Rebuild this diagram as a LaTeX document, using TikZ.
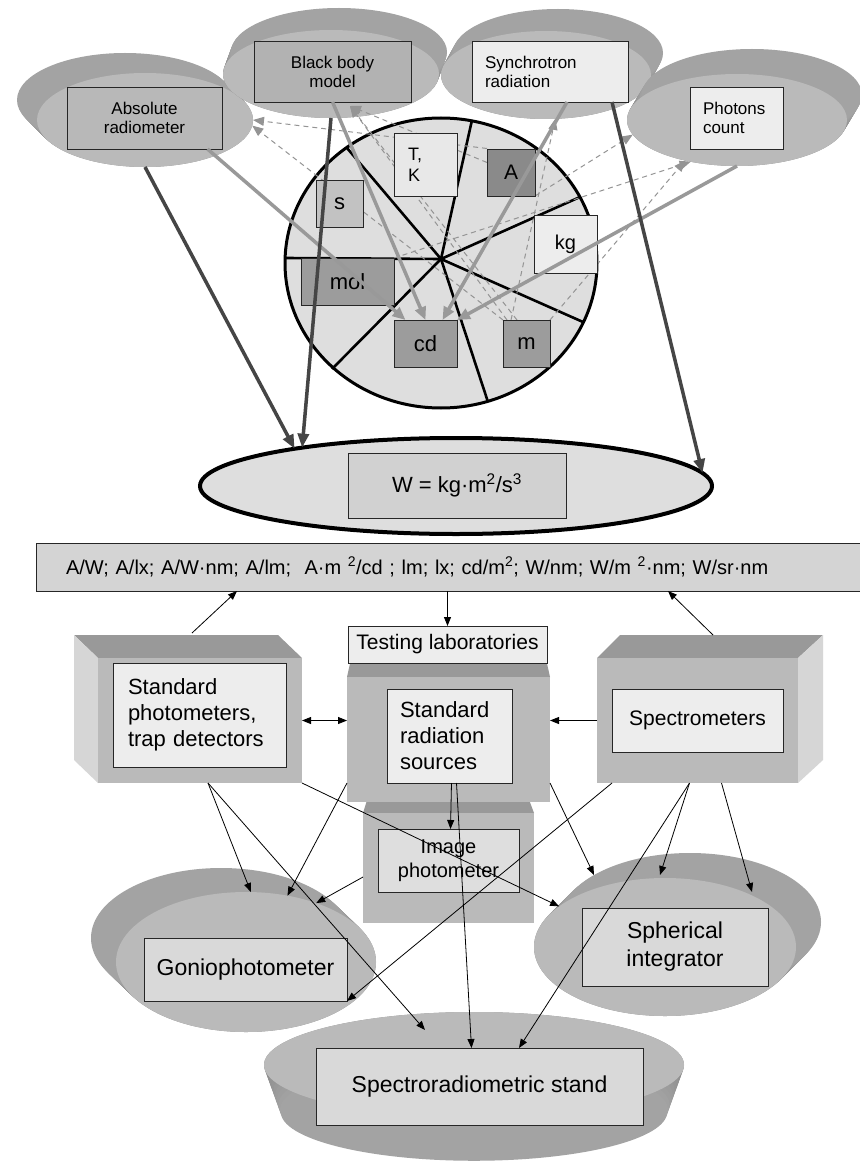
\documentclass[tikz,border=0pt]{standalone}
\usepackage{fontspec}
\setmainfont{Liberation Sans}
\usetikzlibrary{shapes.geometric,arrows.meta}
\definecolor{frontc}{gray}{0.73}
\definecolor{lightbox}{gray}{0.93}
\definecolor{circc}{gray}{0.87}
\definecolor{facec}{gray}{0.73}
\definecolor{topc}{gray}{0.60}
\definecolor{sidec}{gray}{0.84}
\definecolor{lgarrow}{gray}{0.60}
\definecolor{dgarrow}{gray}{0.27}
\definecolor{dashc}{gray}{0.58}
\definecolor{absc}{gray}{0.72}
\definecolor{bbc}{gray}{0.70}
\definecolor{tkc}{gray}{0.91}
\definecolor{ac}{gray}{0.54}
\definecolor{sc}{gray}{0.76}
\definecolor{darkunit}{gray}{0.61}
\definecolor{wfill}{gray}{0.87}
\definecolor{wbox}{gray}{0.82}
\definecolor{barc}{gray}{0.83}
\definecolor{lowbox}{gray}{0.85}
\definecolor{ipc}{gray}{0.87}
\newcommand{\myfs}[2]{\fontsize{#1pt}{#2pt}\selectfont}
\newcommand{\mydisk}[9]{%
  \foreach \i in {0,...,20}{%
    \pgfmathsetmacro{\dt}{\i/20}%
    \pgfmathtruncatemacro{\cc}{46-\i/2}%
    \fill[black!\cc] ({#2+\dt*#6},{#3+\dt*#7}) ellipse ({#4*(1-#8*\dt)*1pt} and {#5*(1-#8*\dt)*1pt});
  }%
  \node[ellipse, fill=#9, minimum width={2*#4}, minimum height={2*#5}, inner sep=0pt, outer sep=0pt] (#1) at (#2,#3) {};
}
\pgfdeclarelayer{dashl}
\pgfdeclarelayer{unitl}
\pgfdeclarelayer{topl}
\pgfsetlayers{main,dashl,unitl,topl}
\tikzset{
 bx/.style={draw=black!85, line width=0.9pt, inner sep=0pt, outer sep=0pt},
 face/.style={fill=facec, inner sep=0pt, outer sep=0pt},
 tL/.style={draw=lgarrow, line width=3.5pt, -{Triangle[length=13pt,width=11pt]}},
 tD/.style={draw=dgarrow, line width=3.5pt, -{Triangle[length=14pt,width=11pt]}},
 dsh/.style={draw=dashc, line width=1pt, dash pattern=on 5pt off 4pt, -{Triangle[length=11pt,width=9pt]}},
 thn/.style={draw=black, line width=0.8pt, -{Triangle[length=9pt,width=7pt]}},
 ray/.style={draw=black, line width=2.6pt},
}
\begin{document}
\begin{tikzpicture}[x=1pt,y=-1pt]
\useasboundingbox (0,0) rectangle (859,1166);
\fill[white] (0,0) rectangle (859,1166);

% ---------- top disks ----------
\mydisk{absD}{145}{120}{108}{47}{-20}{-20}{0}{frontc}
\node[bx, fill=absc, minimum width=155, minimum height=62, align=center, font=\myfs{17}{19}] (absB) at (144.5,118) {Absolute\\radiometer};
\mydisk{bbD}{331}{74}{108}{44}{8}{-22}{0}{frontc}
\node[bx, fill=bbc, minimum width=157, minimum height=61, align=center, font=\myfs{17}{19}] (bbB) at (332.5,71.5) {Black body\\model};
\mydisk{synD}{546}{75}{105}{44}{12}{-22}{0}{frontc}
\node[bx, fill=lightbox, inner xsep=13pt, text width=130pt, minimum height=61, align=left, font=\myfs{17}{19}] (synB) at (550,71.5) {Synchrotron\\radiation};
\mydisk{phD}{737}{120}{110}{46}{15}{-25}{0}{frontc}
\node[bx, fill=lightbox, inner xsep=13pt, text width=67pt, minimum height=62, align=left, font=\myfs{17}{19}] (phB) at (736.5,118) {Photons\\count};

% ---------- SI circle ----------
\node[ellipse, draw=black, line width=3pt, fill=circc, minimum width=312, minimum height=290, inner sep=0pt, outer sep=0pt] (circ) at (441,263) {};
\coordinate (hub) at (441,259);
\draw[ray] (hub) -- (286,258);
\draw[ray] (hub) -- (347,148);
\draw[ray] (hub) -- (472,120);
\draw[ray] (hub) -- (580,197);
\draw[ray] (hub) -- (583,322);
\draw[ray] (hub) -- (488,402);
\draw[ray] (hub) -- (332,369);

% unit boxes
\begin{pgfonlayer}{unitl}
\node[bx, fill=tkc, minimum height=63, inner xsep=14pt, text width=35pt, align=left, font=\myfs{18}{21}] (TK) at (425.5,164.5) {T,\\K};
\node[bx, fill=ac, minimum width=48, minimum height=47, font=\myfs{21}{23}] (A) at (511,172.5) {A};
\node[bx, fill=sc, minimum width=47, minimum height=47, font=\myfs{22}{24}] (s) at (339.5,203.5) {s};
\node[bx, fill=lightbox, minimum width=63, minimum height=58, font=\myfs{20}{22}] (kg) at (565.5,244) {kg};
\node[bx, fill=darkunit, minimum width=93, minimum height=47, font=\myfs{22}{24}] (mol) at (347.5,281.5) {mol};
\node[bx, fill=darkunit, minimum width=63, minimum height=47, font=\myfs{22}{24}] (cd) at (425.5,343.5) {cd};
\node[bx, fill=darkunit, minimum width=47, minimum height=47, font=\myfs{22}{24}] (m) at (526.5,343.5) {m};
\end{pgfonlayer}

% dashed links
\coordinate (bbin) at (350,106);
\begin{pgfonlayer}{dashl}
\draw[dsh] ([yshift=24pt]A.west) -- (absD.east);
\draw[dsh] (m.north west) -- (absD.-3);
\draw[dsh] ([yshift=10pt]A.west) -- (bbin);
\draw[dsh] ([xshift=4pt]m.north west) -- (bbin);
\draw[dsh] ([xshift=14pt]m.north west) -- (bbin);
\draw[dsh] ([xshift=8pt]m.north west) -- (synD.-78);
\draw[dsh] (A.south east) -- (phD.188);
\draw[dsh] (mol.north east) -- (phD.222);
\draw[dsh] (m.north east) -- (phD.218);
\end{pgfonlayer}

% ---------- W ellipse ----------
\node[ellipse, draw=black, line width=4pt, fill=wfill, minimum width=512, minimum height=96, inner sep=0pt, outer sep=0pt] (wE) at (456,486) {};
\node[bx, fill=wbox, minimum width=218, minimum height=65, font=\myfs{22}{24}] (wB) at (457,485.5) {W = kg·m\textsuperscript{2}/s\textsuperscript{3}};

\begin{pgfonlayer}{topl}
\draw[tL] ([xshift=63pt]absB.south) -- ([xshift=-20pt]cd.north);
\draw[tL] (bbB.south) -- (cd.north);
\draw[tL] ([xshift=17pt]synB.south) -- ([xshift=17pt]cd.north);
\draw[tL] (phD.south) -- (cd.north east);
\draw[tD] (absD.south) -- (wE.167);
\draw[tD] (bbD.south) -- (wE.166);
\draw[tD] ([xshift=-16pt]synB.south east) -- (wE.3);
\end{pgfonlayer}

% ---------- units bar ----------
\node[bx, fill=barc, minimum height=48, inner xsep=30pt, text width=766pt, align=left, font=\myfs{20}{22}] (bar) at (449,567) {A/W; A/lx; A/W·nm; A/lm;\ \ A·m \textsuperscript{2}/cd ; lm; lx; cd/m\textsuperscript{2}; W/nm; W/m \textsuperscript{2}·nm; W/sr·nm};

% ---------- lower disks ----------
\mydisk{gonD}{246}{962}{130}{70}{-25}{-24}{0}{frontc}
\node[bx, fill=lowbox, minimum width=203, minimum height=63, font=\myfs{23}{26}] (gonB) at (245.5,969.5) {Goniophotometer};
\mydisk{sphD}{665}{947}{131}{69}{25}{-25}{0}{frontc}
\node[bx, fill=lowbox, minimum width=186, minimum height=78, align=center, font=\myfs{23}{28}] (sphB) at (675,947) {Spherical\\integrator};
\mydisk{stD}{474}{1065}{210}{53}{0}{47}{0.08}{frontc}
\node[bx, fill=lowbox, minimum width=327, minimum height=77, font=\myfs{23}{26}] (stB) at (479.5,1086.5) {Spectroradiometric stand};

% ---------- 3D boxes ----------
\fill[topc] (368,797) -- (528,797) -- (534,813) -- (363,813) -- cycle;
\node[face, minimum width=171, minimum height=110] (ipF) at (448.5,868) {};
\node[bx, fill=ipc, minimum width=141, minimum height=63, align=center, font=\myfs{20}{24}] (ipB) at (448.5,860.5) {Image\\photometer};
\fill[topc] (353,650) -- (544,650) -- (550,677) -- (347,677) -- cycle;
\node[face, minimum width=203, minimum height=125] (rsF) at (448.5,739.5) {};
\node[bx, fill=lightbox, minimum height=94, inner xsep=13pt, text width=99pt, align=left, font=\myfs{22}{26}] (rsB) at (449.5,736) {Standard\\radiation\\sources};
\node[bx, fill=lightbox, minimum width=199, minimum height=37, font=\myfs{21}{23}] (tl) at (447.5,644.5) {Testing laboratories};
\fill[topc] (74,635) -- (278,635) -- (302,658) -- (98,658) -- cycle;
\fill[sidec] (74,635) -- (98,658) -- (98,783) -- (74,760) -- cycle;
\node[face, minimum width=204, minimum height=125] (spF) at (200,720.5) {};
\node[bx, fill=lightbox, minimum height=104, inner xsep=15pt, text width=143pt, align=left, font=\myfs{22}{26}] (spB) at (199.5,715) {Standard\\photometers,\\trap detectors};
\fill[topc] (597,658) -- (620,635) -- (823,635) -- (798,658) -- cycle;
\fill[sidec] (798,658) -- (823,635) -- (823,760) -- (798,783) -- cycle;
\node[face, minimum width=201, minimum height=125] (specF) at (697.5,720.5) {};
\node[bx, fill=lightbox, minimum width=171, minimum height=63, font=\myfs{21}{23}] (specB) at (697.5,720.5) {Spectrometers};

% ---------- thin connectors ----------
\coordinate (sptop) at (192,633);
\coordinate (spectop) at (713,635);
\coordinate (barin1) at (237,591);
\coordinate (barin2) at (668,591);
\coordinate (stin1) at (425,1030);
\coordinate (sphin1) at (594,875);
\coordinate (sphin2) at (660,875);
\coordinate (sphin3) at (752,892);

\draw[thn] (tl.north |- bar.south) -- (tl.north);
\draw[thn] (sptop) -- (barin1);
\draw[thn] (spectop) -- (barin2);
\draw[thn, {Triangle[length=9pt,width=7pt]}-{Triangle[length=9pt,width=7pt]}] (spF.east) -- (spF.east -| rsF.west);
\draw[thn] (specF.west) -- (specF.west -| rsF.east);
\draw[thn] ([xshift=2pt]rsB.south) -- ([xshift=2pt]ipB.north);
\draw[thn] ([xshift=7pt]rsB.south) -- ([xshift=-8pt]stB.north);
\draw[thn] ([xshift=8pt]spF.south) -- (gonD.86);
\draw[thn] ([xshift=8pt]spF.south) -- (stin1);
\draw[thn] (spF.south east) -- (sphD.159);
\draw[thn] ([yshift=19pt]rsF.south west) -- (gonD.58);
\draw[thn] ([yshift=-9pt]ipF.west) -- (gonD.40);
\draw[thn] ([xshift=15pt]specF.south west) -- (gonB.south east);
\draw[thn] ([yshift=19pt]rsF.south east) -- (sphin1);
\draw[thn] ([xshift=-8pt]specF.south) -- (sphin2);
\draw[thn] ([xshift=-8pt]specF.south) -- ([xshift=39.5pt]stB.north);
\draw[thn] ([xshift=24pt]specF.south) -- (sphin3);
\end{tikzpicture}
\end{document}
